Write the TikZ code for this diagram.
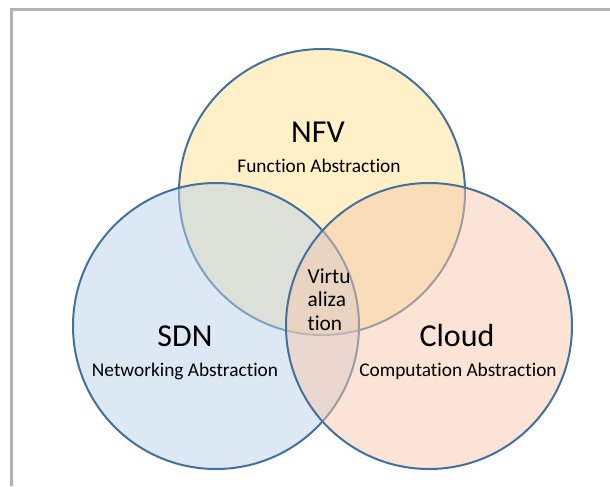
\documentclass[tikz,border=0pt]{standalone}
\usepackage{fontspec}
\setmainfont{Carlito}[Ligatures={NoCommon,NoContextual}]
\definecolor{ringblue}{HTML}{41719C}
\definecolor{framegray}{HTML}{B5B2B2}
\definecolor{nfvfill}{RGB}{255,225,145}
\definecolor{sdnfill}{RGB}{187,209,235}
\definecolor{cloudfill}{RGB}{247,201,171}
\begin{document}
\begin{tikzpicture}[x=0.75pt,y=-0.75pt,
  ring/.style={circle,draw=ringblue,line width=1.5pt,fill opacity=0.5,
    minimum size=214.5pt,inner sep=0pt},
  title/.style={anchor=base,font=\fontsize{24}{28}\selectfont,text=black},
  subtitle/.style={anchor=base,font=\fontsize{14.5}{17}\selectfont,text=black},
  core/.style={anchor=base west,font=\fontsize{16}{18}\selectfont,text=black}]
\useasboundingbox (0,0) rectangle (610,486);
% frame on the top and left
\draw[framegray,line width=2.25pt] (10,9.5) -- (610,9.5);
\draw[framegray,line width=2.25pt] (11.5,8) -- (11.5,486);
% the three overlapping circles
\node[ring,fill=nfvfill] (nfv) at (322,192) {};
\node[ring,fill=sdnfill] (sdn) at (216,326) {};
\node[ring,fill=cloudfill] (cloud) at (429,326) {};
% labels
\node[title] (nfvt) at (318,142) {NFV};
\node[subtitle] (nfvs) at (319,172) {Function Abstraction};
\node[title] (sdnt) at (185,346) {SDN};
\node[subtitle] (sdns) at (185,376) {Networking Abstraction};
\node[title] (cloudt) at (457,346) {Cloud};
\node[subtitle] (clouds) at (458,376) {Computation Abstraction};
\node[core] (v1) at (303,283) {Virtu};
\node[core] (v2) at (303,306) {aliza};
\node[core] (v3) at (303,330) {tion};
\end{tikzpicture}
\end{document}
